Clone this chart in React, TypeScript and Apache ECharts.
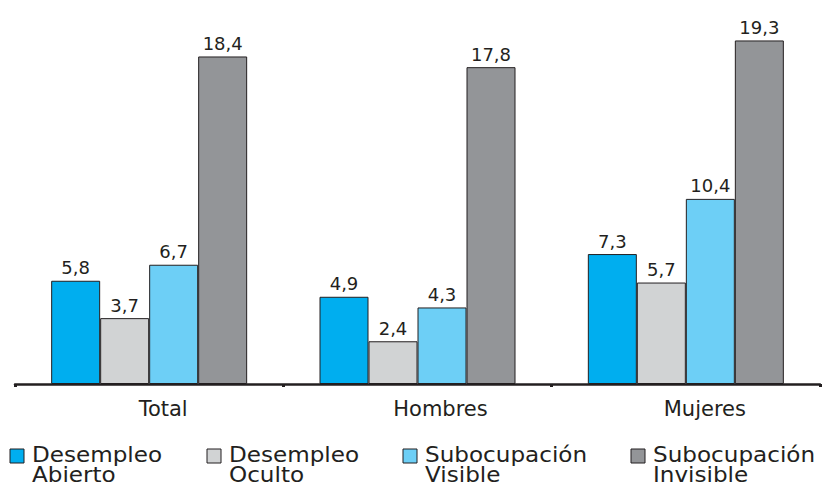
import React, { useEffect, useRef } from "react";
import * as echarts from "echarts";

const categories = ["Total", "Hombres", "Mujeres"];
const seriesNames = ["Desempleo Abierto", "Desempleo Oculto", "Subocupación Visible", "Subocupación Invisible"];
const desempleoAbierto = [5.8, 4.9, 7.3];
const desempleoOculto = [3.7, 2.4, 5.7];
const subocupacionVisible = [6.7, 4.3, 10.4];
const subocupacionInvisible = [18.4, 17.8, 19.3];
const colors = ["#00AEEF", "#D1D3D4", "#6DCFF6", "#939598"];
const legendX = [10, 207, 403, 631];
const labelShift = [28, 46, 38];

const FONT = "DejaVu Sans";
const TEXT = "#231F20";

export default function App() {
  const ref = useRef<HTMLDivElement>(null);
  useEffect(() => {
    if (!ref.current) return;
    const chart = echarts.init(ref.current, null, { renderer: "svg" });
    const values = [desempleoAbierto, desempleoOculto, subocupacionVisible, subocupacionInvisible];
    const fmt = (v: number) => v.toFixed(1).replace(".", ",");
    const legendGraphics: any[] = [];
    seriesNames.forEach((name, i) => {
      legendGraphics.push({
        type: "rect",
        shape: { x: legendX[i], y: 449, width: 14, height: 14 },
        style: { fill: colors[i], stroke: TEXT, lineWidth: 1 },
      });
      legendGraphics.push({
        type: "text",
        x: legendX[i] + 22,
        y: 445,
        scaleX: 1.1,
        style: {
          text: name.split(" ").join("\n"),
          font: `21px "${FONT}"`,
          fill: TEXT,
          lineHeight: 20,
          verticalAlign: "top",
          align: "left",
        },
      });
    });
    chart.setOption({
      animation: false,
      grid: { left: 15, right: 3, top: 28, bottom: 102 },
      xAxis: {
        type: "category",
        data: categories.map((c, i) => ({ value: c, textStyle: { padding: [0, 0, 0, labelShift[i]] } })),
        axisLine: { lineStyle: { color: TEXT, width: 2.5 } },
        axisTick: { show: true, length: 3, lineStyle: { color: TEXT, width: 3 } },
        axisLabel: { color: TEXT, fontFamily: FONT, fontSize: 21, margin: 14 },
      },
      yAxis: { type: "value", min: 0, max: 20, show: false, splitLine: { show: false } },
      series: seriesNames.map((name, i) => ({
        name,
        type: "bar",
        data: values[i],
        barWidth: 49,
        barGap: "0%",
        itemStyle: { color: colors[i], borderColor: TEXT, borderWidth: 1 },
        label: {
          show: true,
          position: "top",
          distance: 4,
          color: TEXT,
          fontFamily: FONT,
          fontSize: 18,
          formatter: (p: any) => fmt(p.value),
        },
      })),
      graphic: legendGraphics,
    });
    return () => chart.dispose();
  }, []);
  return <div ref={ref} style={{ width: 823, height: 486, position: "absolute", left: 0, top: 0 }} />;
}
